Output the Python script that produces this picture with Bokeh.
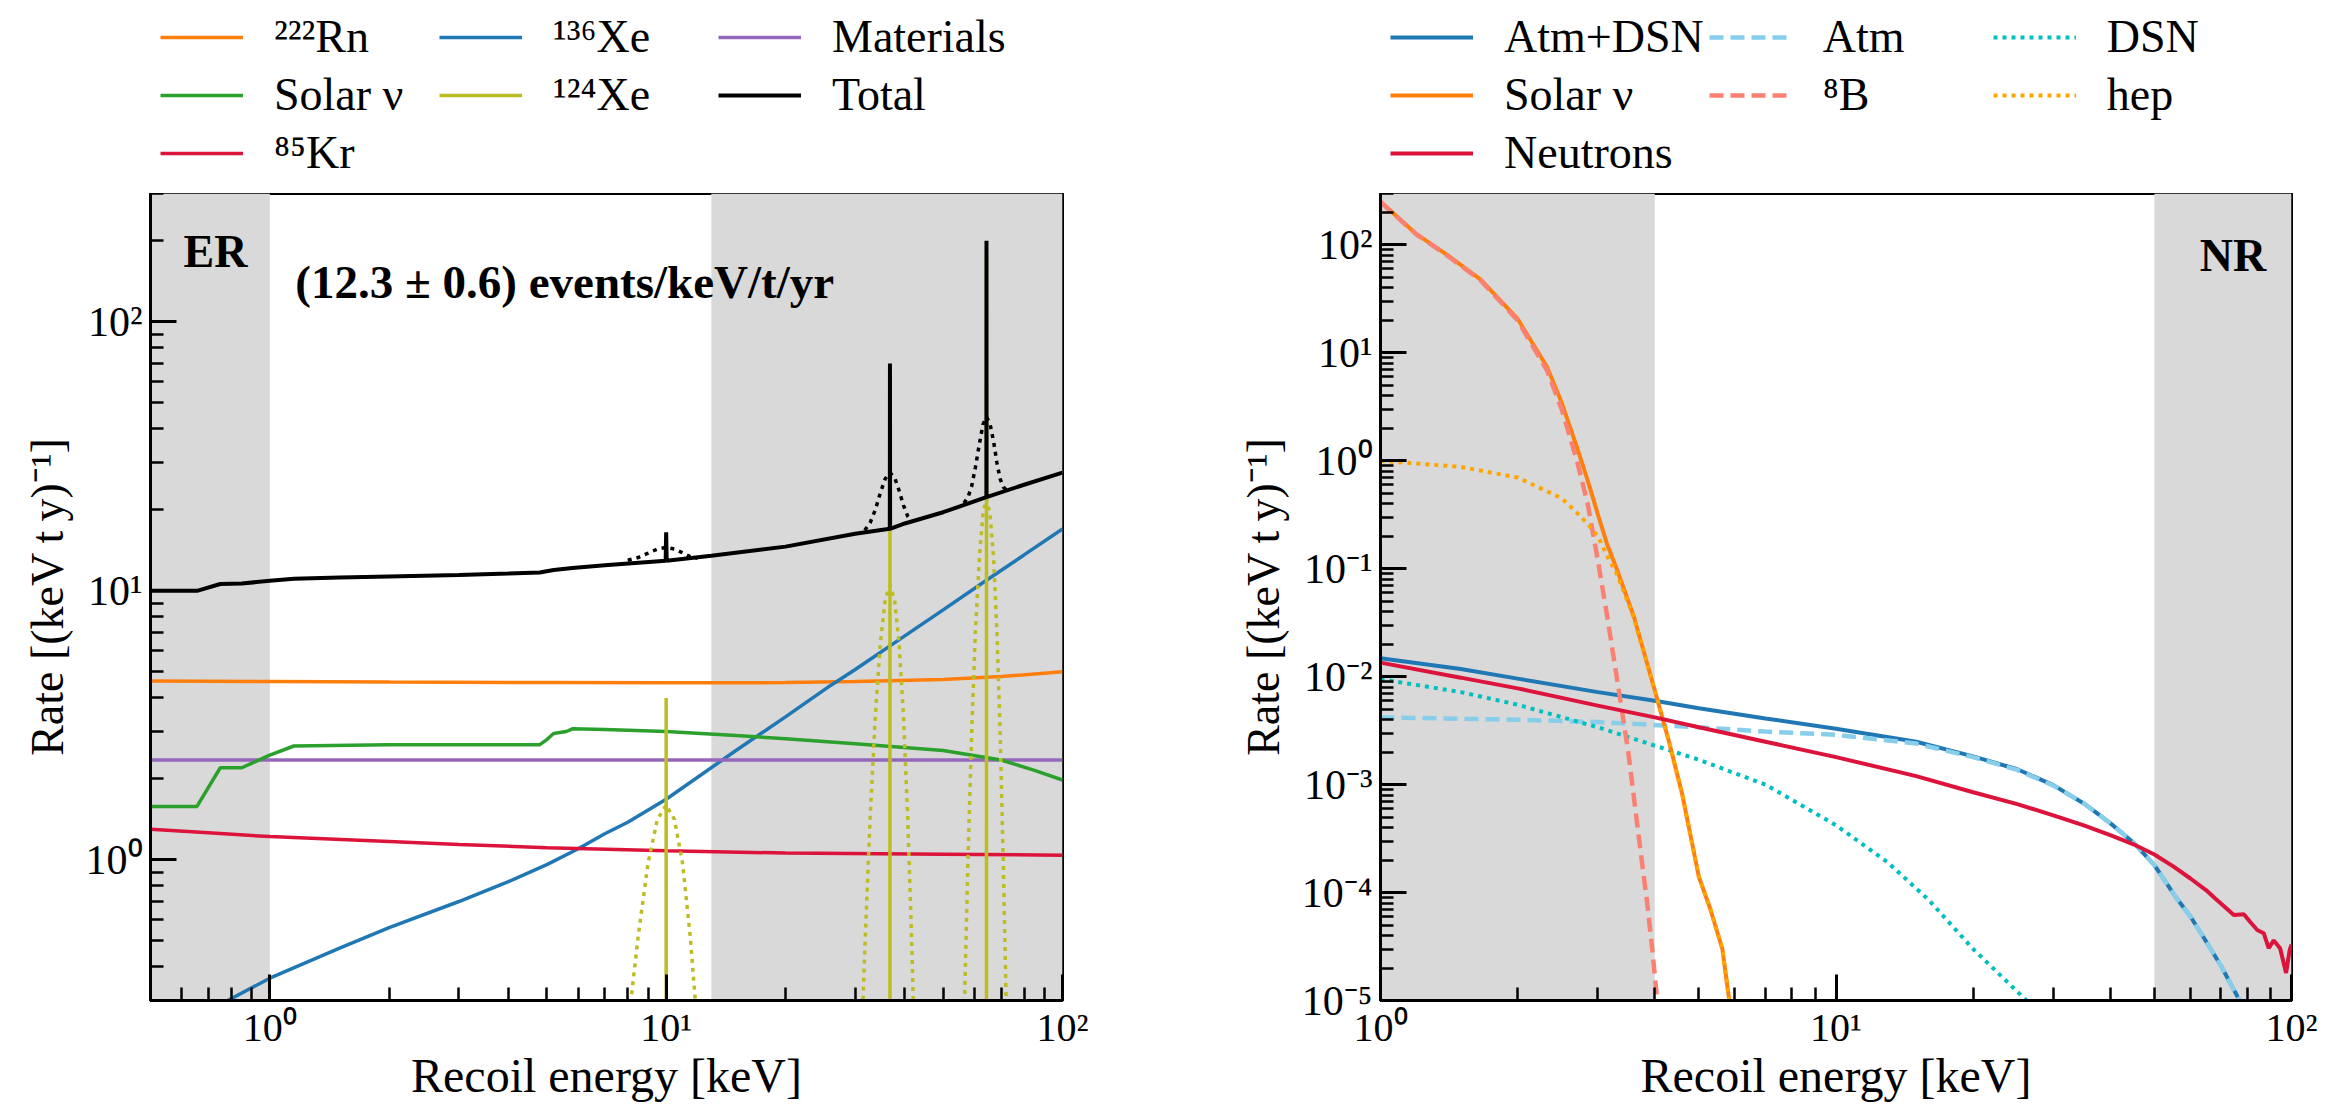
from bokeh.plotting import figure
from bokeh.models import (Legend, LegendItem, BoxAnnotation, Label, FixedTicker,
                          CustomJSTickFormatter, Range1d)
from bokeh.layouts import row, column
from bokeh.embed import file_html
from bokeh.resources import INLINE

# ---------------- ER (left) data ----------------
er_xlim = (0.5, 100)
er_ylim = (0.3, 300)
er_shaded = [(0.5, 1.0), (13.0, 100.0)]

rn222_E = [0.5, 1, 2, 5, 10, 20, 30, 50, 70, 100]
rn222_R = [4.62, 4.6, 4.58, 4.56, 4.55, 4.56, 4.6, 4.68, 4.8, 5.0]

xe136_E = [0.5, 0.75, 1, 1.5, 2, 3, 4, 5, 6, 7, 8, 10, 15, 20, 26, 30, 40, 50, 64, 80, 100]
xe136_R = [0.2, 0.29, 0.363, 0.47, 0.56, 0.70, 0.83, 0.96, 1.1, 1.25, 1.38, 1.68,
           2.55, 3.4, 4.45, 5.1, 6.8, 8.5, 10.9, 13.6, 17.0]

materials_E = [0.5, 100]
materials_R = [2.35, 2.35]

solar_er_E = [0.5, 0.655, 0.75, 0.85, 1.0, 1.15, 2, 4.8, 5.0, 5.2, 5.6, 5.8, 7, 10, 15, 20,
              30, 50, 70, 85, 100]
solar_er_R = [1.58, 1.58, 2.2, 2.2, 2.45, 2.65, 2.68, 2.68, 2.8, 2.95, 3.0, 3.07, 3.05,
              3.0, 2.9, 2.82, 2.7, 2.55, 2.35, 2.15, 1.98]

kr85_E = [0.5, 0.7, 1, 2, 3, 5, 10, 20, 50, 100]
kr85_R = [1.3, 1.26, 1.22, 1.17, 1.14, 1.11, 1.08, 1.06, 1.05, 1.04]

xe124_line_E = [9.999, 10.0, 10.001, 36.699, 36.7, 36.701, 64.299, 64.3, 64.301]
xe124_line_R = [1e-3, 4.0, 1e-3, 1e-3, 54.0, 1e-3, 1e-3, 178.0, 1e-3]

xe124_s1_E = [7.9, 8.5, 9.0, 9.5, 10.0, 10.5, 11.0, 11.5, 12.1]
xe124_s1_R = [0.2, 0.52, 0.97, 1.41, 1.6, 1.41, 0.97, 0.52, 0.2]
xe124_s2_E = [30.7, 31.7, 32.7, 33.7, 34.7, 35.7, 36.7, 37.7, 38.7, 39.7, 40.7, 41.7, 42.7]
xe124_s2_R = [0.12, 0.46, 1.42, 3.41, 6.37, 9.27, 10.5, 9.27, 6.37, 3.41, 1.42, 0.46, 0.12]
xe124_s3_E = [55.0, 56.4, 57.7, 59.0, 60.3, 61.7, 63.0, 64.3, 65.6, 67.0, 68.3, 69.6, 70.9,
              72.3, 73.6]
xe124_s3_R = [0.05, 0.24, 0.96, 2.98, 7.1, 13.3, 19.4, 22.0, 19.4, 13.3, 7.1, 2.98, 0.96,
              0.24, 0.05]

total_E = [0.5, 0.655, 0.75, 0.85, 1.0, 1.15, 1.5, 2, 3, 4, 4.8, 5.2, 5.8, 7, 9.97, 10.0,
           10.03, 13, 20, 30, 36.67, 36.7, 36.73, 40, 50, 64.27, 64.3, 64.33, 80, 100]
total_R = [10.0, 10.0, 10.6, 10.65, 10.9, 11.1, 11.2, 11.3, 11.45, 11.6, 11.7, 11.95, 12.15,
           12.45, 12.95, 16.5, 12.95, 13.5, 14.6, 16.3, 17.0, 70.0, 17.0, 17.8, 19.6, 22.3,
           200.0, 22.3, 24.8, 27.5]

total_s1_E = [8.0, 8.5, 9.0, 9.5, 10.0, 10.5, 11.0, 11.5, 12.0]
total_s1_R = [13.0, 13.3, 13.8, 14.3, 14.5, 14.3, 13.85, 13.4, 13.2]
total_s2_E = [31.7, 32.7, 33.7, 34.7, 35.7, 36.7, 37.7, 38.7, 39.7, 40.7, 41.7]
total_s2_R = [16.8, 17.9, 20.0, 23.1, 26.1, 27.5, 26.4, 23.6, 20.8, 18.9, 18.1]
total_s3_E = [56.4, 57.7, 59.0, 60.3, 61.7, 63.0, 64.3, 65.6, 67.0, 68.3, 69.6, 70.9, 72.3]
total_s3_R = [21.2, 22.2, 24.5, 28.8, 35.2, 41.5, 44.3, 41.9, 36.0, 30.0, 26.1, 24.3, 23.7]

# ---------------- NR (right) data ----------------
nr_xlim = (1, 100)
nr_ylim = (1e-5, 300)
nr_shaded = [(1.0, 4.0), (50.0, 100.0)]

atmdsn_E = [1, 1.5, 2, 3, 4, 5, 7, 10, 15, 20, 25, 30, 35, 40, 45, 50, 56, 60, 65, 70, 76, 80]
atmdsn_R = [0.0148, 0.0118, 0.0096, 0.0072, 0.006, 0.0051, 0.0041, 0.0033, 0.0025, 0.00183,
            0.00139, 0.00099, 6.7e-4, 4.4e-4, 2.9e-4, 1.8e-4, 8.8e-5, 6e-5, 3.5e-5, 2.1e-5,
            1.1e-5, 7e-6]

atm_E = [1, 2, 3, 5, 7, 10, 15, 20, 25, 30, 35, 40, 45, 50, 56, 60, 65, 70, 76, 80]
atm_R = [0.0042, 0.0040, 0.0038, 0.0034, 0.0031, 0.0029, 0.0024, 0.0018, 0.00137, 0.00098,
         6.7e-4, 4.4e-4, 2.9e-4, 1.8e-4, 8.8e-5, 6e-5, 3.5e-5, 2.1e-5, 1.1e-5, 7e-6]

dsn_E = [1, 1.5, 2, 3, 4, 5, 7, 10, 13, 16, 20, 23, 26.2, 28]
dsn_R = [0.0095, 0.0072, 0.0055, 0.0034, 0.0023, 0.0017, 0.001, 4.2e-4, 1.9e-4, 8.5e-5,
         3e-5, 1.7e-5, 1e-5, 7e-6]

solar_nr_E = [1.0, 1.2, 1.4, 1.66, 2.0, 2.32, 2.5, 2.7, 2.85, 3.0, 3.15, 3.3, 3.5, 3.6, 4.0,
              4.3, 4.6, 5.0, 5.3, 5.63, 5.83, 6.0]
solar_nr_R = [251, 126, 81, 47.8, 20.7, 7.45, 3.45, 1.33, 0.66, 0.32, 0.165, 0.10, 0.05,
              0.036, 0.0075, 0.0025, 8e-4, 1.4e-4, 7e-5, 3e-5, 1e-5, 5e-6]

b8_E = [1.0, 1.2, 1.4, 1.66, 2.0, 2.32, 2.5, 2.7, 2.85, 3.0, 3.15, 3.3, 3.5, 3.7, 3.85,
        3.95, 4.05, 4.15]
b8_R = [250, 125, 80, 47, 20, 6.9, 3.0, 1.0, 0.4, 0.12, 0.035, 0.01, 2e-3, 3e-4, 8e-5,
        3e-5, 1e-5, 3e-6]

hep_E = [1.0, 1.5, 2.0, 2.5, 2.7, 2.85, 3.0, 3.15, 3.3, 3.5, 3.6, 4.0, 4.3, 4.6, 5.0, 5.3,
         5.63, 5.83, 6.0]
hep_R = [1.0, 0.88, 0.7, 0.45, 0.33, 0.26, 0.2, 0.13, 0.09, 0.048, 0.035, 0.0075, 0.0025,
         8e-4, 1.4e-4, 7e-5, 3e-5, 1e-5, 5e-6]

neutron_E = [1, 1.5, 2, 3, 4, 5, 7, 10, 15, 20, 25, 30, 35, 40, 45, 50, 55, 60, 65, 68, 71,
             74.7, 78.6, 81, 84.1, 86.9, 89.1, 91.4, 94.4, 97.3, 99.1, 100]
neutron_R = [0.0135, 0.0098, 0.0078, 0.0054, 0.0042, 0.0034, 0.0025, 0.0018, 0.0012,
             8.5e-4, 6.6e-4, 5.2e-4, 4.2e-4, 3.4e-4, 2.8e-4, 2.25e-4, 1.75e-4, 1.35e-4,
             1.05e-4, 8.8e-5, 7.5e-5, 6.2e-5, 6.3e-5, 5.4e-5, 4.5e-5, 4.2e-5, 3.05e-5,
             3.6e-5, 3.05e-5, 1.8e-5, 2.95e-5, 3.3e-5]

# ---------------- tick lists ----------------
major_ticks_er_x = [1, 10, 100]
major_ticks_er_y = [1, 10, 100]
major_ticks_nr_x = [1, 10, 100]
major_ticks_nr_y = [1e-5, 1e-4, 1e-3, 1e-2, 1e-1, 1, 10, 100]


def minors(lo, hi, decades):
    out = []
    for k in decades:
        for m in range(2, 10):
            v = m * 10.0 ** k
            if lo <= v <= hi:
                out.append(v)
    return out


SERIF = "Liberation Serif"
GREY = "#d9d9d9"
LEG_H = 193
MAIN_H = 911

# line styles (shared by the plot lines and their legend entries)
ST = {
    "rn": dict(line_color="#ff7f0e", line_width=3.5),
    "xe136": dict(line_color="#1f77b4", line_width=3.5),
    "mat": dict(line_color="#9467bd", line_width=3.5),
    "sol": dict(line_color="#2ca02c", line_width=3.5),
    "kr": dict(line_color="#dc143c", line_width=3.5),
    "xe124": dict(line_color="#bcbd22", line_width=3.5),
    "xe124dot": dict(line_color="#bcbd22", line_width=3.5, line_dash="4 5"),
    "tot": dict(line_color="black", line_width=4),
    "totdot": dict(line_color="black", line_width=3.5, line_dash="4 5"),
    "ad": dict(line_color="#1f77b4", line_width=4),
    "atm": dict(line_color="#87ceeb", line_width=4.5, line_dash="14 7"),
    "dsn": dict(line_color="#00bfbf", line_width=4, line_dash="4 5"),
    "nsol": dict(line_color="#ff7f0e", line_width=4),
    "b8": dict(line_color="#fa8072", line_width=4.5, line_dash="14 7"),
    "hep": dict(line_color="#ffa500", line_width=4, line_dash="4 5"),
    "neu": dict(line_color="#dc143c", line_width=4),
}

sup_js = """
const sup = {"-":"\u207b","0":"\u2070","1":"\u00b9","2":"\u00b2","3":"\u00b3","4":"\u2074",
             "5":"\u2075","6":"\u2076","7":"\u2077","8":"\u2078","9":"\u2079"};
const e = Math.round(Math.log10(tick));
return "10" + String(e).split("").map(c => sup[c]).join("");
"""


def style(p, xt, xm, yt, ym):
    p.xaxis.ticker = FixedTicker(ticks=xt, minor_ticks=xm)
    p.yaxis.ticker = FixedTicker(ticks=yt, minor_ticks=ym)
    for ax in (p.xaxis[0], p.yaxis[0]):
        ax.formatter = CustomJSTickFormatter(code=sup_js)
        ax.axis_line_width = 3
        ax.major_tick_in = 26
        ax.major_tick_out = 0
        ax.minor_tick_in = 13
        ax.minor_tick_out = 0
        ax.major_tick_line_width = 3
        ax.minor_tick_line_width = 2.5
        ax.major_label_text_font = SERIF
        ax.major_label_text_color = "black"
        ax.axis_label_text_font = SERIF
        ax.axis_label_text_font_style = "normal"
        ax.axis_label_text_color = "black"
    xa, ya = p.xaxis[0], p.yaxis[0]
    xa.major_label_text_font_size = "40px"
    xa.axis_label_text_font_size = "48px"
    xa.major_label_standoff = 4
    xa.axis_label_standoff = -4
    ya.major_label_text_font_size = "42px"
    ya.axis_label_text_font_size = "46px"
    ya.major_label_standoff = 8
    ya.axis_label_standoff = 10
    p.xgrid.visible = False
    p.ygrid.visible = False
    p.outline_line_color = "black"
    p.outline_line_width = 3
    p.outline_line_alpha = 1.0


def legend_fig(width, entries, label_width, b_left, b_right):
    lf = figure(width=width, height=LEG_H, x_range=Range1d(0, 1), y_range=Range1d(0, 1),
                x_axis_location=None, y_axis_location=None, output_backend="svg",
                toolbar_location=None, min_border_left=b_left, min_border_right=b_right,
                min_border_top=0, min_border_bottom=0)
    lf.xgrid.visible = False
    lf.ygrid.visible = False
    lf.outline_line_color = None
    items = []
    for label, key in entries:
        # legend-only stand-in, kept outside the visible range of this panel
        r = lf.line([-2, -1], [-2, -1], **ST[key])
        items.append(LegendItem(label=label, renderers=[r]))
    lg = Legend(items=items, ncols=3, orientation="horizontal", location="top_left")
    lg.label_text_font = SERIF
    lg.label_text_font_size = "46px"
    lg.label_text_color = "black"
    lg.glyph_width = 83
    lg.glyph_height = 40
    lg.label_height = 40
    lg.label_width = label_width
    lg.label_standoff = 31
    lg.spacing = 5
    lg.padding = 10
    lg.margin = 0
    lg.border_line_alpha = 0
    lg.background_fill_alpha = 0
    lf.add_layout(lg)
    return lf


BL_E, BR_E = 150, 106
BL_N, BR_N = 212, 27

# ================= ER figure =================
pe = figure(width=1168, height=MAIN_H, x_axis_type="log", y_axis_type="log",
            x_range=Range1d(*er_xlim), y_range=Range1d(*er_ylim),
            output_backend="svg", toolbar_location=None,
            min_border_left=BL_E, min_border_right=BR_E, min_border_top=0,
            min_border_bottom=104)
style(pe, major_ticks_er_x, minors(0.5, 100, (-1, 0, 1)),
      major_ticks_er_y, minors(0.3, 300, (-1, 0, 1, 2)))
pe.xaxis.axis_label = "Recoil energy [keV]"
pe.yaxis.axis_label = "Rate [(keV\u2009t\u2009y)\u207b\u00b9]"

for lo, hi in er_shaded:
    pe.add_layout(BoxAnnotation(left=lo, right=hi, fill_color=GREY, fill_alpha=1.0,
                                line_alpha=0, level="underlay"))

pe.line(rn222_E, rn222_R, **ST["rn"])
pe.line(xe136_E, xe136_R, **ST["xe136"])
pe.line(materials_E, materials_R, **ST["mat"])
pe.line(solar_er_E, solar_er_R, **ST["sol"])
pe.line(kr85_E, kr85_R, **ST["kr"])
for xs, ys in ((xe124_s1_E, xe124_s1_R), (xe124_s2_E, xe124_s2_R), (xe124_s3_E, xe124_s3_R)):
    pe.line(xs, ys, **ST["xe124dot"])
pe.line(xe124_line_E, xe124_line_R, **ST["xe124"])
pe.line(total_E, total_R, **ST["tot"])
for xs, ys in ((total_s1_E, total_s1_R), (total_s2_E, total_s2_R), (total_s3_E, total_s3_R)):
    pe.line(xs, ys, **ST["totdot"])

pe.add_layout(Label(x=0.606, y=182.6, text="ER", text_font=SERIF, text_font_style="bold",
                    text_font_size="46px", text_color="black",
                    text_baseline="alphabetic", text_align="left"))
pe.add_layout(Label(x=1.16, y=141, text="(12.3 \u00b1 0.6) events/keV/t/yr", text_font=SERIF,
                    text_font_style="bold", text_font_size="47px", text_color="black",
                    text_baseline="alphabetic", text_align="left"))

# row-major: row1 Rn, 136Xe, Materials / row2 Solar, 124Xe, Total / row3 Kr
le = legend_fig(1168, [
    ("\u00b2\u00b2\u00b2Rn", "rn"),
    ("\u00b9\u00b3\u2076Xe", "xe136"),
    ("Materials", "mat"),
    ("Solar \u03bd", "sol"),
    ("\u00b9\u00b2\u2074Xe", "xe124"),
    ("Total", "tot"),
    ("\u2078\u2075Kr", "kr"),
], 160, BL_E, BR_E)

# ================= NR figure =================
pn = figure(width=1150, height=MAIN_H, x_axis_type="log", y_axis_type="log",
            x_range=Range1d(*nr_xlim), y_range=Range1d(*nr_ylim),
            output_backend="svg", toolbar_location=None,
            min_border_left=BL_N, min_border_right=BR_N, min_border_top=0,
            min_border_bottom=104)
style(pn, major_ticks_nr_x, minors(1, 100, (0, 1)),
      major_ticks_nr_y, minors(1e-5, 300, (-5, -4, -3, -2, -1, 0, 1, 2)))
pn.xaxis.axis_label = "Recoil energy [keV]"
pn.yaxis.axis_label = "Rate [(keV\u2009t\u2009y)\u207b\u00b9]"

for lo, hi in nr_shaded:
    pn.add_layout(BoxAnnotation(left=lo, right=hi, fill_color=GREY, fill_alpha=1.0,
                                line_alpha=0, level="underlay"))

pn.line(atmdsn_E, atmdsn_R, **ST["ad"])
pn.line(atm_E, atm_R, **ST["atm"])
pn.line(dsn_E, dsn_R, **ST["dsn"])
pn.line(solar_nr_E, solar_nr_R, **ST["nsol"])
pn.line(b8_E, b8_R, **ST["b8"])
pn.line(hep_E, hep_R, **ST["hep"])
pn.line(neutron_E, neutron_R, **ST["neu"])

pn.add_layout(Label(x=88, y=79.8, text="NR", text_font=SERIF, text_font_style="bold",
                    text_font_size="46px", text_color="black",
                    text_baseline="alphabetic", text_align="right"))

ln = legend_fig(1150, [
    ("Atm+DSN", "ad"),
    ("Atm", "atm"),
    ("DSN", "dsn"),
    ("Solar \u03bd", "nsol"),
    ("\u2078B", "b8"),
    ("hep", "hep"),
    ("Neutrons", "neu"),
], 165, BL_N, BR_N)

layout = row(column(le, pe), column(ln, pn))
open("out.html", "w").write(file_html(layout, INLINE))
